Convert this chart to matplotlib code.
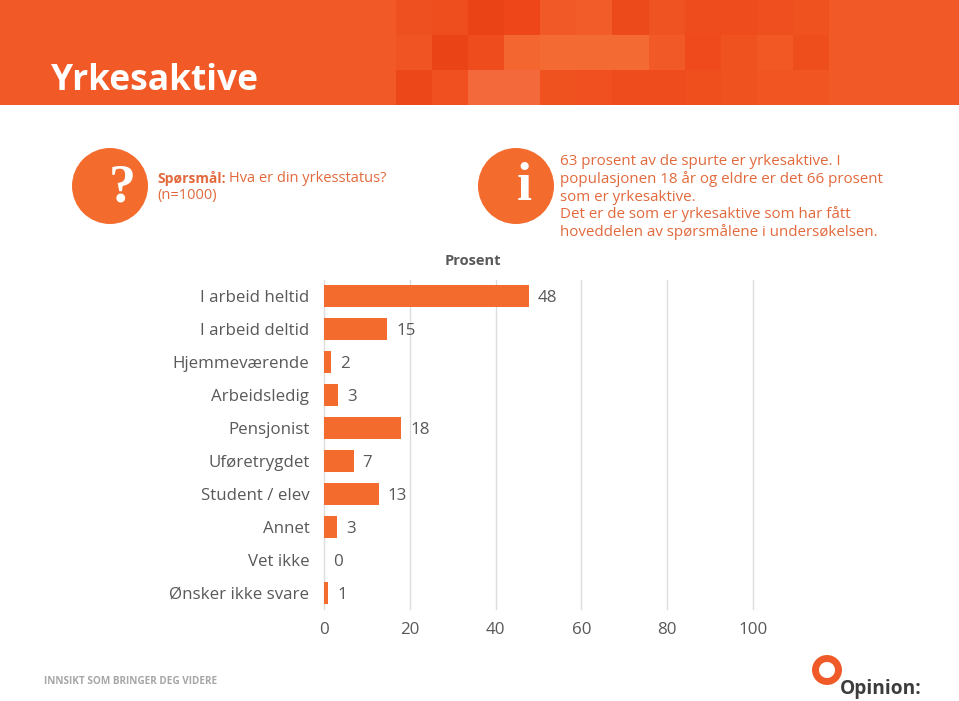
import numpy as np
import matplotlib
matplotlib.use('Agg')
import matplotlib.pyplot as plt
from matplotlib.colors import to_rgb
from matplotlib.patches import Circle, Rectangle

categories = ['I arbeid heltid', 'I arbeid deltid', 'Hjemmeværende', 'Arbeidsledig', 'Pensjonist',
              'Uføretrygdet', 'Student / elev', 'Annet', 'Vet ikke', 'Ønsker ikke svare']
values = [47.8, 14.7, 1.6, 3.2, 18.0, 6.9, 12.8, 3.0, 0.0, 1.0]
value_labels = ['48', '15', '2', '3', '18', '7', '13', '3', '0', '1']
x_ticks = [0, 20, 40, 60, 80, 100]

info_lines = ['63 prosent av de spurte er yrkesaktive. I',
              'populasjonen 18 år og eldre er det 66 prosent',
              'som er yrkesaktive.',
              'Det er de som er yrkesaktive som har fått',
              'hoveddelen av spørsmålene i undersøkelsen.']

# mosaikken i toppfeltet
header_cols = [396, 431, 468, 505, 540, 576, 612, 648, 685, 722, 758, 795, 829]
header_colors = [
    ['#EF5020', '#EE4D1D', '#EA4316', '#EE4618', '#F15A26', '#F25C29', '#EC4A1A', '#F05322', '#EE4C1C', '#EE4C1C', '#EF4F1E', '#F0521F'],
    ['#F05423', '#EA4316', '#EE4C1C', '#F3662F', '#F36A33', '#F36A33', '#F36A33', '#F15A26', '#EE4A1B', '#F0521F', '#F15824', '#EE4D1C'],
    ['#EC4719', '#F05020', '#F3693B', '#F3693B', '#F0521F', '#F05020', '#EE4C1C', '#EE4C1C', '#EF4E1D', '#F0521F', '#F05522', '#F05522'],
]

ORANGE = '#F36C2E'
TEXT_ORANGE = '#E2693C'
GREY = '#595959'
plt.rcParams['font.family'] = ['Open Sans', 'DejaVu Sans']

W, H = 959, 701
fig = plt.figure(figsize=(W / 100, H / 100), dpi=100)

bg = fig.add_axes([0, 0, 1, 1])
bg.axis('off')

bg.add_patch(Rectangle((0, 0), W, 105, color='#F15A26', lw=0, zorder=1))
img = np.array([[to_rgb(c) for c in row] for row in header_colors])
bg.imshow(img, extent=(header_cols[0], header_cols[-1], 105, 0), aspect='auto', interpolation='nearest', zorder=2)
bg.set_xlim(0, W)
bg.set_ylim(H, 0)
bg.text(51, 81, 'Yrkesaktive', color='white', fontsize=25.5, fontweight='bold', va='center', zorder=3)

# ikonene
bg.add_patch(Circle((110, 186), 38, color=ORANGE, lw=0))
bg.text(122, 188, '?', color='white', fontsize=39, fontweight='bold', family='Liberation Serif', ha='center', va='center')
bg.add_patch(Circle((516, 186), 38, color=ORANGE, lw=0))
bg.text(524, 187, 'i', color='white', fontsize=39, fontweight='bold', family='Liberation Serif', ha='center', va='center')

bg.text(157, 178, 'Spørsmål:', color=TEXT_ORANGE, fontsize=10, fontweight='bold', va='center')
bg.text(229, 178, 'Hva er din yrkesstatus?', color=TEXT_ORANGE, fontsize=10.5, va='center')
bg.text(157, 196, '(n=1000)', color=TEXT_ORANGE, fontsize=10.5, va='center')
for i, line in enumerate(info_lines):
    bg.text(560, 165 + i * 17.8, line, color=TEXT_ORANGE, fontsize=10.9, va='baseline')

bg.text(473, 261, 'Prosent', color=GREY, fontsize=10.5, fontweight='bold', ha='center', va='center')

# logo og bunntekst
bg.add_patch(Circle((827, 670), 11.5, fill=False, ec='#F05A28', lw=5))
bg.text(840, 689, 'Opinion:', color='#3C3C3C', fontsize=13.8, fontweight='bold', va='center')
bg.text(44, 681, 'INNSIKT SOM BRINGER DEG VIDERE', color='#A6A6A6', fontsize=7.2, fontweight='bold', va='center')

# selve diagrammet
ax = fig.add_axes([324 / W, 1 - 609 / H, (753 - 324) / W, (609 - 280) / H])
ax.patch.set_alpha(0)
y = np.arange(len(categories))
bars = ax.barh(y, values, height=0.67, color=ORANGE, zorder=3)
ax.set_xlim(0, 100)
ax.set_ylim(len(categories) - 0.5, -0.5)
ax.set_yticks(y, categories)
ax.set_xticks(x_ticks)
ax.grid(axis='x', color='#DDDDDD', lw=1.0, zorder=0)
ax.grid(axis='y', visible=False)
for line in ax.get_xgridlines():
    line.set_clip_on(False)
ax.tick_params(length=0, labelcolor=GREY, labelsize=12.2)
ax.tick_params(axis='y', pad=10.5)
ax.tick_params(axis='x', pad=9.5)
for s in ax.spines.values():
    s.set_visible(False)
for bar, lab in zip(bars, value_labels):
    ax.annotate(lab, (bar.get_width(), bar.get_y() + bar.get_height() / 2), xytext=(6.5, 0),
                textcoords='offset points', va='center_baseline', color=GREY, fontsize=12.2, zorder=4)

fig.savefig('out.png', dpi=100)
